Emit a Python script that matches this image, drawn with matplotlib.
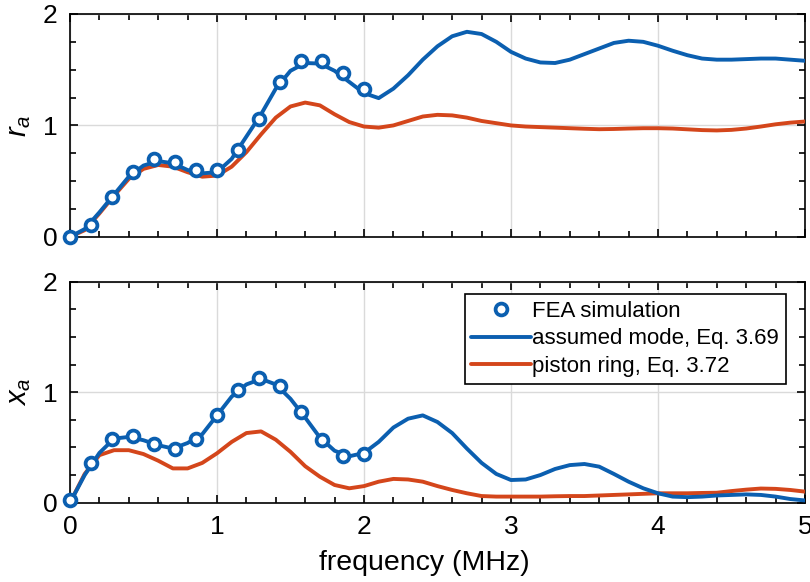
import matplotlib.pyplot as plt
import numpy as np
from matplotlib.ticker import MultipleLocator

plt.rcParams["font.family"] = ["Liberation Sans", "DejaVu Sans"]
plt.rcParams["mathtext.fontset"] = "custom"
plt.rcParams["mathtext.it"] = "Liberation Sans:italic"
plt.rcParams["mathtext.rm"] = "Liberation Sans"

BLUE = "#0b5fb0"
RED = "#d4461b"

# FEA simulation points
fea_freq = [0, 1 / 7, 2 / 7, 3 / 7, 4 / 7, 5 / 7, 6 / 7, 1, 8 / 7, 9 / 7, 10 / 7, 11 / 7, 12 / 7, 13 / 7, 2]
fea_r = [0.0, 0.105, 0.354, 0.58, 0.70, 0.67, 0.60, 0.60, 0.775, 1.06, 1.39, 1.575, 1.574, 1.47, 1.33]
fea_x = [0.025, 0.36, 0.575, 0.60, 0.53, 0.49, 0.58, 0.79, 1.02, 1.125, 1.056, 0.82, 0.57, 0.42, 0.44]

# model curves, read every 0.1 MHz
freq = [round(0.1 * i, 1) for i in range(51)]
mode_r = [0.0, 0.07, 0.22, 0.38, 0.54, 0.64, 0.68, 0.66, 0.60, 0.57,
          0.58, 0.70, 0.90, 1.10, 1.33, 1.49, 1.56, 1.555, 1.49, 1.39,
          1.29, 1.245, 1.33, 1.45, 1.59, 1.71, 1.80, 1.84, 1.82, 1.75,
          1.66, 1.60, 1.565, 1.56, 1.59, 1.64, 1.69, 1.74, 1.76, 1.75,
          1.715, 1.67, 1.63, 1.60, 1.59, 1.59, 1.595, 1.60, 1.60, 1.59, 1.58]
piston_r = [0.0, 0.06, 0.21, 0.37, 0.52, 0.61, 0.645, 0.63, 0.58, 0.54,
            0.55, 0.63, 0.76, 0.92, 1.07, 1.17, 1.205, 1.18, 1.10, 1.03,
            0.99, 0.98, 1.00, 1.04, 1.08, 1.095, 1.09, 1.07, 1.04, 1.02,
            1.00, 0.99, 0.985, 0.98, 0.975, 0.97, 0.966, 0.968, 0.972, 0.975,
            0.975, 0.972, 0.965, 0.958, 0.955, 0.96, 0.972, 0.99, 1.01, 1.025, 1.035]
mode_x = [0.0, 0.25, 0.45, 0.58, 0.595, 0.565, 0.52, 0.49, 0.54, 0.62,
          0.79, 0.96, 1.07, 1.12, 1.07, 0.94, 0.77, 0.59, 0.47, 0.42,
          0.45, 0.55, 0.68, 0.76, 0.79, 0.73, 0.63, 0.49, 0.36, 0.26,
          0.205, 0.21, 0.25, 0.305, 0.34, 0.35, 0.326, 0.26, 0.19, 0.13,
          0.085, 0.055, 0.05, 0.055, 0.065, 0.07, 0.075, 0.07, 0.055, 0.033, 0.02]
piston_x = [0.0, 0.26, 0.43, 0.475, 0.475, 0.44, 0.38, 0.31, 0.31, 0.36,
            0.447, 0.55, 0.63, 0.645, 0.57, 0.46, 0.33, 0.235, 0.16, 0.13,
            0.15, 0.19, 0.215, 0.21, 0.19, 0.15, 0.115, 0.085, 0.06, 0.055,
            0.055, 0.055, 0.055, 0.058, 0.06, 0.06, 0.065, 0.07, 0.075, 0.08,
            0.085, 0.085, 0.085, 0.088, 0.09, 0.105, 0.118, 0.128, 0.125, 0.115, 0.10]


def style_axes(ax, ylabel, show_xticklabels):
    ax.set_xlim(0, 5)
    ax.set_ylim(0, 2)
    ax.xaxis.set_major_locator(MultipleLocator(1))
    ax.xaxis.set_minor_locator(MultipleLocator(0.2))
    ax.yaxis.set_major_locator(MultipleLocator(1))
    ax.yaxis.set_minor_locator(MultipleLocator(0.25))
    ax.tick_params(which="both", direction="in", top=True, right=True, width=1.2, labelsize=19, pad=9)
    ax.tick_params(which="major", length=6)
    ax.tick_params(which="minor", length=4)
    ax.grid(True, which="major", color="#dadada", lw=1)
    ax.set_axisbelow(True)
    for s in ax.spines.values():
        s.set_linewidth(1.2)
    if not show_xticklabels:
        ax.tick_params(labelbottom=False)
    ax.set_ylabel(ylabel, fontsize=21, labelpad=7)


fig = plt.figure(figsize=(8.1, 5.82), dpi=100)
ax1 = fig.add_axes([0.0864, 0.593, 0.9074, 0.383])
ax2 = fig.add_axes([0.0864, 0.1363, 0.9074, 0.3797])

kw_fea = dict(ls="none", marker="o", ms=8.5, mfc="white", mec=BLUE, mew=2.7, zorder=5)
kw_line = dict(lw=2.8, solid_joinstyle="round", solid_capstyle="round")

ax1.plot(freq, piston_r, color=RED, zorder=3, **kw_line)
ax1.plot(freq, mode_r, color=BLUE, zorder=4, **kw_line)
ax1.plot(fea_freq, fea_r, clip_on=False, **kw_fea)
style_axes(ax1, "$r_a$", False)

ax2.plot(fea_freq, fea_x, clip_on=False, label="FEA simulation", **kw_fea)
ax2.plot(freq, mode_x, color=BLUE, zorder=4, label="assumed mode, Eq. 3.69", **kw_line)
ax2.plot(freq, piston_x, color=RED, zorder=3, label="piston ring, Eq. 3.72", **kw_line)
style_axes(ax2, "$x_a$", True)
ax2.set_xlabel("frequency (MHz)", fontsize=20.5)
ax2.xaxis.set_label_coords(0.482, -0.215)

leg = ax2.legend(loc="upper right", bbox_to_anchor=(0.974, 0.944), borderaxespad=0,
                 fontsize=16, frameon=True, fancybox=False, edgecolor="black",
                 framealpha=1, handlelength=2.7, handletextpad=0.05, labelspacing=0.3,
                 borderpad=0.3)
leg.get_frame().set_linewidth(1.2)

fig.savefig("out.png", dpi=100)
